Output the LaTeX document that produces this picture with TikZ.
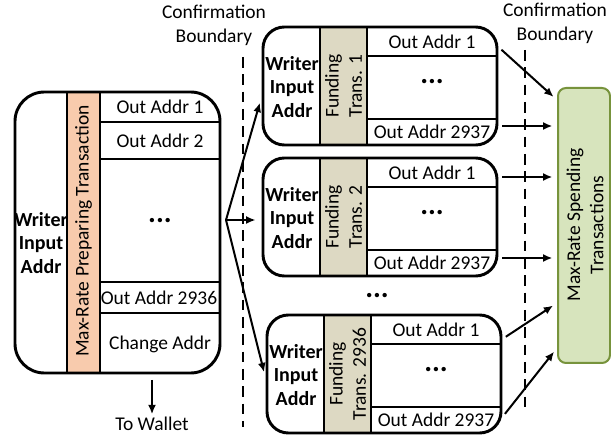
\documentclass[tikz,border=0pt]{standalone}
\usepackage{fontspec}
\setmainfont{Carlito}
\usetikzlibrary{fit,arrows.meta}

\definecolor{prepfill}{HTML}{F8CBAD}
\definecolor{fundfill}{HTML}{DDD9C3}
\definecolor{spendfill}{HTML}{D7E4BD}
\definecolor{spendline}{HTML}{77933C}

\begin{document}
\begin{tikzpicture}[x=0.75pt,y=-0.75pt,
  frame/.style={draw,line width=2.2pt,rounded corners=#1,inner sep=0},
  cell/.style={line width=1.5pt},
  lbl/.style={font=\fontsize{14.6}{17.5}\selectfont,inner sep=1pt},
  wr/.style={lbl,font=\fontsize{15}{17.5}\selectfont\bfseries,align=center},
  vert/.style={lbl,rotate=90,align=center},
  dots/.style={font=\fontsize{22}{22}\selectfont\bfseries,inner sep=0},
  bound/.style={line width=1.8pt,dash pattern=on 8pt off 5pt},
  flow/.style={-{Latex[length=7pt,width=6pt]},line width=1.5pt}]
\useasboundingbox (0,0) rectangle (611,438);

% preparing transaction
\begin{scope}
  \clip[rounded corners=22pt] (15,92) rectangle (220,373);
  \fill[prepfill] (67,92) rectangle (100,373);
  \draw[cell] (67,92) -- (67,373) (100,92) -- (100,373);
  \foreach \y in {122,159,282,313} \draw[cell] (100,\y) -- (220,\y);
\end{scope}
\node[frame=22pt,fit={(15,92) (220,373)}] (prep) {};
\node[wr] (prepwr) at (41,243) {Writer\\Input\\Addr};
\node[vert] (preptx) at (83.5,231) {Max-Rate Preparing Transaction};
\node[lbl] (pout1) at (160,107) {Out Addr 1};
\node[lbl] (pout2) at (160,141) {Out Addr 2};
\node[dots] (pdots) at (160,221) {...};
\node[lbl] (poutn) at (159,298) {Out Addr 2936};
\node[lbl] (pchg) at (160,344) {Change Addr};
\node[lbl] (wallet) at (152,424) {To Wallet};
\draw[flow,shorten <=4pt,shorten >=1pt] (prep.south -| wallet) -- (wallet.north);

% confirmation boundaries
\node[lbl,align=center,font=\fontsize{14.6}{18}\selectfont] (cb1) at (214,25) {Confirmation\\Boundary};
\draw[bound] (243,57) -- (243,427);
\node[lbl,align=center,font=\fontsize{14.6}{18}\selectfont] (cb2) at (555,23) {Confirmation\\Boundary};
\draw[bound] (525,50) -- (525,410);

% funding transactions
\foreach \i/\x/\y/\n in {1/263/27/1, 2/263/158/2, 3/267/315/2936}{%
  \begin{scope}
    \clip[rounded corners=16pt] (\x,\y) rectangle ++(234,118);
    \fill[fundfill] (\x+57,\y) rectangle ++(47,118);
    \draw[cell] (\x+57,\y) -- ++(0,118) (\x+104,\y) -- ++(0,118);
    \draw[cell] (\x+104,\y+29) -- ++(130,0) (\x+104,\y+92) -- ++(130,0);
  \end{scope}
  \node[frame=16pt,fit={(\x,\y) (\x+234,\y+118)}] (fund\i) {};
  \node[wr] (fwr\i) at (\x+29,\y+60) {Writer\\Input\\Addr};
  \node[vert] (ftx\i) at (\x+80.5,\y+59) {Funding\\Trans. \n};
  \node[lbl] (fa\i) at (\x+169,\y+15) {Out Addr 1};
  \node[dots] (fd\i) at (\x+169,\y+55) {...};
  \node[lbl] (fz\i) at (\x+169,\y+105) {Out Addr 2937};
}
\node[dots] (mdots) at (377,296) {...};

% spending transactions
\node[frame=6pt,draw=spendline,line width=1.5pt,fill=spendfill,fit={(558,88) (610,363)}] (spend) {};
\node[vert] (spendtx) at (585,225) {Max-Rate Spending\\Transactions};

% arrows
\coordinate (fan) at (226,220);
\foreach \f/\e in {1/97, 2/220, 3/378}
  \draw[flow,shorten >=4.5pt] (fan) -- (fund\f.west |- 0,\e);
\foreach \f/\s/\e in {1/47/100, 1/126/126, 2/177/177, 2/258/258, 3/339/303, 3/417/348}
  \draw[flow,shorten <=3pt,shorten >=3.5pt] (fund\f.east |- 0,\s) -- (spend.west |- 0,\e);
\end{tikzpicture}
\end{document}
